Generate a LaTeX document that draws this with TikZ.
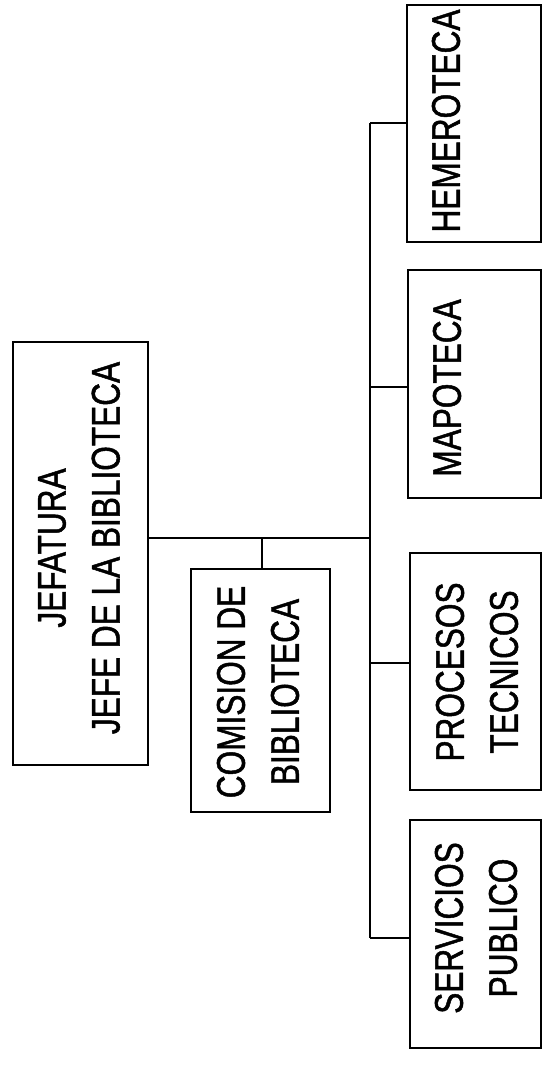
\documentclass[tikz,border=0pt]{standalone}
\usepackage{fontspec}
\setmainfont{Liberation Sans}[FakeStretch=0.79,FakeBold=1.2]
\begin{document}
\begin{tikzpicture}[x=1pt,y=-1pt,
  box/.style={draw, line width=1.2pt, rectangle, inner sep=0pt},
  lbl/.style={rotate=90, align=center, font=\fontsize{40}{54}\selectfont, inner sep=0pt},
  conn/.style={line width=1.4pt},
  trunk/.style={line width=2pt}]
\useasboundingbox (0,0) rectangle (543,1075);
% boxes
\node[box, minimum width=135pt, minimum height=423pt] (jef) at (80.5,553.5) {};
\node[box, minimum width=139pt, minimum height=243pt] (com) at (260.5,690.5) {};
\node[box, minimum width=134pt, minimum height=237pt] (hem) at (474,123.5) {};
\node[box, minimum width=133pt, minimum height=228pt] (map) at (474.5,384) {};
\node[box, minimum width=131pt, minimum height=237pt] (pro) at (475.5,671.5) {};
\node[box, minimum width=131pt, minimum height=228pt] (ser) at (475.5,934) {};
% labels
\node[lbl] (jefT) at (79,548) {JEFATURA\\JEFE DE LA BIBLIOTECA};
\node[lbl] (comT) at (258,692) {COMISION DE\\BIBLIOTECA};
\node[lbl] (hemT) at (446,121) {HEMEROTECA};
\node[lbl] (mapT) at (447,388) {MAPOTECA};
\node[lbl] (proT) at (477,672) {PROCESOS\\TECNICOS};
\node[lbl] (serT) at (476,928) {SERVICIOS\\PUBLICO};
% connectors
\coordinate (jx) at (370,538);
\coordinate (tk) at (262,538);
\coordinate (b1) at (370,123);
\coordinate (b2) at (370,387);
\coordinate (b3) at (370,663);
\coordinate (b4) at (370,938);
\draw[conn] (jef.east |- jx) -- (jx);
\draw[conn] (tk) -- (tk |- com.north);
\draw[trunk] (b1) -- (b4);
\draw[conn] (b1) -- (b1 -| hem.west);
\draw[conn] (b2) -- (b2 -| map.west);
\draw[conn] (b3) -- (b3 -| pro.west);
\draw[conn] (b4) -- (b4 -| ser.west);
\end{tikzpicture}
\end{document}
